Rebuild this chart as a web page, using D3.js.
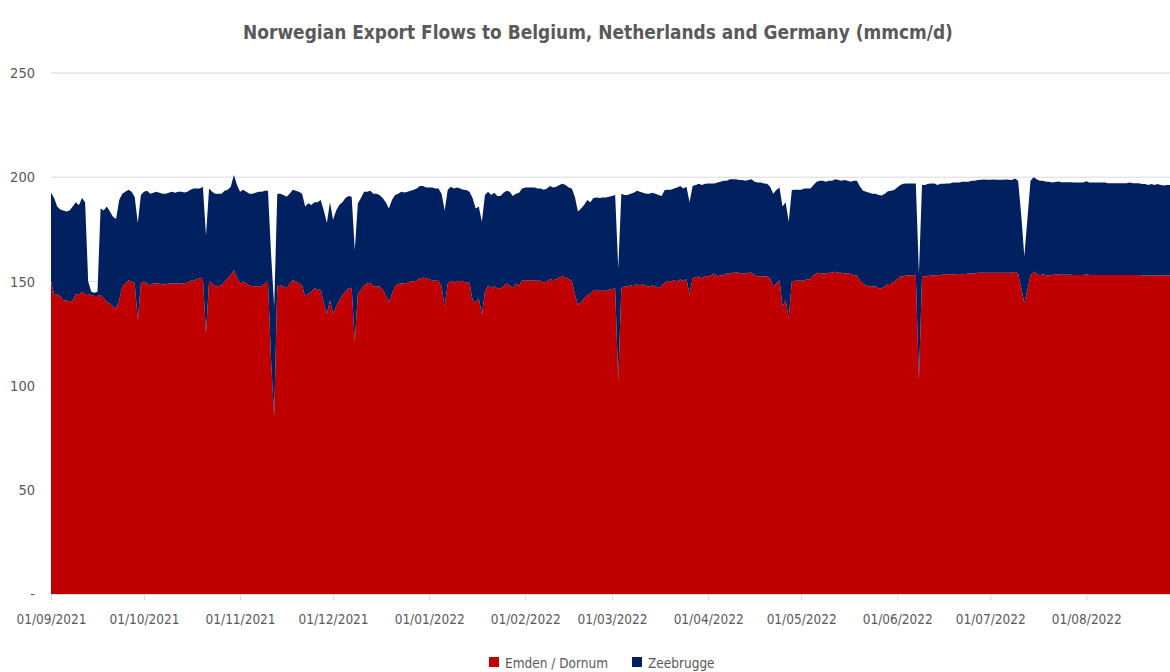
<!DOCTYPE html>
<html>
<head>
<meta charset="utf-8">
<script src="https://cdn.jsdelivr.net/npm/d3@7"></script>
<style>
  body { margin: 0; background: #fff; }
  svg text { font-family: "Liberation Sans Narrow", "DejaVu Sans Condensed", "Open Sans", sans-serif; fill: #595959; }
</style>
</head>
<body>
<svg id="chart" width="1170" height="672"></svg>
<script>
// first day of the daily series
const startDate = '2021-09-01';

// Emden / Dornum, mmcm/d, one value per day
const emden = [
  150, 143.5, 144, 142.7, 141, 141, 140, 141, 144, 143.5,
  145, 144, 144, 143.5, 143, 143, 143.5, 142, 140, 139.5,
  138, 137, 141, 147.5, 149, 150.5, 150, 149, 131.5, 149,
  150, 149, 148, 149, 149, 149, 148.5, 148.5, 149, 149,
  149, 149, 149, 149, 149.3, 150.3, 150.3, 151, 151.5, 151.8,
  125, 150, 149, 147.5, 147.8, 148, 150, 151.5, 153, 155.5,
  152, 149, 150, 149, 148, 147.7, 147.7, 147.7, 147.7, 149,
  150, 112, 85, 147.5, 148, 147.5, 146.7, 149, 150.6, 150,
  149, 148, 142.7, 144, 145, 146.7, 146, 146, 139.5, 134.3,
  141, 134.6, 138, 141, 143.5, 145, 146.7, 147, 121, 144,
  146, 148, 149, 149.3, 147.7, 147.7, 147.5, 146, 143.5, 140,
  144, 147.7, 148.7, 149, 149, 149.3, 150, 150, 150.3, 151.5,
  151.8, 151.5, 151, 150.6, 150.3, 150.3, 147.5, 138, 149, 150.3,
  149.3, 150, 150.3, 150, 149.3, 149.3, 141, 140, 142, 134,
  145, 148, 146.7, 147.7, 146.7, 146.7, 147.7, 149, 148, 146.7,
  149, 148, 150.6, 150.6, 150.6, 150.6, 150.6, 150.3, 150.3, 149.3,
  150, 151, 150.6, 151, 152, 152.3, 152, 151, 150.3, 144,
  138.7, 140, 141.9, 143.5, 144, 145.5, 146, 145.5, 145.5, 145.5,
  146, 146.3, 146.7, 102.7, 146.7, 147.5, 147.7, 148, 147.7, 148.7,
  148, 148.7, 147.7, 147.5, 148, 147.7, 146.7, 148, 149.3, 150.3,
  150, 150.6, 150, 151, 150.3, 151, 144, 151.5, 152, 152.3,
  151.5, 152.3, 152.3, 153, 153.8, 152.3, 153, 153, 153.8, 153.8,
  154.2, 154.2, 154.2, 153.8, 153.8, 154.2, 154.2, 153, 152.5, 152.5,
  152.3, 152.3, 151.5, 147.5, 149, 150.6, 138, 141, 132.3, 150,
  150.3, 150.3, 150.3, 150.6, 151, 151, 153, 153.8, 154.2, 153.8,
  153.8, 154.2, 154.2, 154.6, 154.2, 154.2, 153.8, 153.8, 153.5, 153,
  153, 150.3, 149, 148, 147.5, 147.5, 147.5, 146.7, 146.7, 147.5,
  148.8, 148.7, 150, 151, 152.3, 152.5, 153, 153, 153, 153,
  102.6, 152.5, 152.5, 152.5, 153, 153, 153, 153, 153.4, 153.4,
  153.4, 153.4, 153.4, 153.5, 153.4, 153.5, 153.8, 153.8, 153.8, 154.2,
  154.2, 154.2, 154.2, 154.2, 154.2, 154.2, 154.2, 154.2, 154.2, 154.2,
  154.2, 154.6, 153.8, 147, 139.5, 146, 153, 154.6, 153.8, 153,
  153.4, 153, 153, 153, 153.4, 153.4, 153.2, 153.2, 153.2, 153.2,
  153.1, 153.1, 153.1, 153.1, 153.4, 153.1, 153.1, 153.1, 153.1, 153.1,
  153.1, 153.1, 153.1, 153.1, 153.1, 153.1, 153.1, 153.1, 153.1, 153.1,
  153.1, 153.1, 152.8, 152.8, 152.8, 152.8, 152.8, 152.8, 152.8, 152.8,
  152.8, 152.8
];

// Zeebrugge, mmcm/d, one value per day
const zeebrugge = [
  42.6, 46.5, 42, 41.8, 43, 42.5, 44, 45, 44, 43,
  45, 44, 6, 1.5, 1.5, 2, 41.5, 42, 46, 44,
  43, 43, 48, 44.5, 44, 43.5, 43, 41.5, 46.5, 42.5,
  43, 44.5, 44, 43.5, 44, 43.5, 43.5, 43.5, 43.5, 44,
  43.5, 44, 44, 43.7, 43.7, 43.7, 44.3, 43.6, 43.1, 43.6,
  47, 44.6, 44, 44.5, 44.2, 44, 43.5, 42.5, 42.4, 45.5,
  44.3, 44, 44, 44, 44, 44.3, 44.8, 45.3, 45.3, 44.5,
  43.5, 51, 53, 44.5, 44, 43.9, 43.9, 43, 43.4, 43.5,
  44, 44, 43.3, 43.5, 41.7, 41.3, 42, 43, 44.5, 43.7,
  47, 45, 46, 45.7, 44.5, 45, 44.3, 43.6, 44, 43.5,
  44, 45, 44, 44.2, 44.3, 44.3, 43.9, 44, 44.5, 45,
  45, 43.7, 43.3, 44, 43.7, 43.7, 43.5, 44, 44.3, 44.3,
  44, 43.5, 44, 44.4, 44.3, 44.3, 44.5, 46, 45, 45.1,
  45.3, 45, 44.3, 44, 44.5, 43.7, 49, 45, 44, 44.6,
  46.4, 45, 44.7, 44.8, 44.3, 44.3, 44.8, 44.5, 45, 44.3,
  43, 44.5, 44, 44.4, 44.4, 44.4, 44.4, 44.3, 44.3, 44.7,
  44.6, 44.8, 44.4, 44.4, 44.3, 44.5, 44.3, 44, 44.3, 46.6,
  44.8, 45, 44.8, 45.5, 44, 44.5, 44.3, 44.5, 44.8, 44.8,
  44.6, 44.7, 44.7, 53.6, 45.3, 43.9, 43.7, 44, 44.8, 44.8,
  45, 43.8, 44.3, 44.5, 44.5, 44.3, 44.7, 43, 44.5, 43.7,
  44, 44, 45, 44.8, 44.3, 44.4, 44, 44.3, 44.3, 44.5,
  44.8, 44.5, 44.7, 44, 43.2, 45.1, 44.8, 45.3, 44.5, 45.2,
  44.8, 44.8, 44.4, 44.8, 44.5, 44.4, 44.8, 44.8, 44.9, 44.9,
  44.7, 44.5, 43.9, 44.5, 44.8, 44.4, 48, 47, 46.3, 43.8,
  43.7, 43.7, 43.7, 44, 43.6, 43.6, 43.3, 44, 44.1, 44.5,
  44, 44.1, 44.1, 44.4, 44.4, 44.1, 44.8, 44.5, 44.3, 45.3,
  45.3, 45.1, 44.5, 45, 45, 44.5, 44.5, 44.7, 44.5, 44.5,
  44.4, 44.8, 43.8, 44, 44, 44.3, 44, 44, 44, 44,
  51.3, 43.8, 43.8, 44.3, 44, 44, 43.3, 43.8, 43.4, 43.6,
  43.6, 44, 44, 43.9, 44.4, 44.3, 44, 44.5, 44.5, 44.4,
  44.6, 44.7, 44.6, 44.6, 44.7, 44.6, 44.6, 44.6, 44.7, 44.6,
  44.4, 44.8, 44.5, 35, 22.5, 34, 45.3, 45.4, 45.2, 45.3,
  44.9, 44.8, 44.8, 44.4, 44.3, 44.5, 44.4, 44.4, 44.4, 44.4,
  44.4, 44.4, 44.4, 44.4, 44.6, 44.4, 44.3, 44.3, 44.3, 44.3,
  44.3, 44, 44, 44, 44, 44, 44, 44, 44.3, 44,
  44, 44, 43.9, 43.9, 43.5, 43.9, 43.5, 43.9, 43.5, 43.2,
  43.5, 43.4
];

const seriesKeys = ['emden', 'zeebrugge'];
const seriesNames = ['Emden / Dornum', 'Zeebrugge'];
const seriesColors = ['#c00000', '#002060'];

const yTicks = [0, 50, 100, 150, 200, 250];
const xTicks = ['2021-09-01', '2021-10-01', '2021-11-01', '2021-12-01', '2022-01-01', '2022-02-01',
                '2022-03-01', '2022-04-01', '2022-05-01', '2022-06-01', '2022-07-01', '2022-08-01'];

const titleText = 'Norwegian Export Flows to Belgium, Netherlands and Germany (mmcm/d)';

const WIDTH = 1170, HEIGHT = 672;
const MARGINS = { top: 73, bottom: 78, left: 51, right: 0 };

const parseDate = d3.timeParse('%Y-%m-%d');
const start = parseDate(startDate);

const table = emden.map((v, i) => ({
  date: d3.timeDay.offset(start, i),
  emden: v,
  zeebrugge: zeebrugge[i]
}));

const svg = d3.select('#chart');

const x = d3.scaleTime()
  .domain(d3.extent(table, d => d.date))
  .range([MARGINS.left, WIDTH - MARGINS.right]);
const y = d3.scaleLinear()
  .domain([0, 250])
  .range([HEIGHT - MARGINS.bottom, MARGINS.top]);

// Gridlines
svg.append('g')
  .selectAll('line')
  .data(yTicks.filter(d => d > 0))
  .join('line')
    .attr('x1', MARGINS.left)
    .attr('x2', WIDTH)
    .attr('y1', d => y(d))
    .attr('y2', d => y(d))
    .attr('stroke', '#d9d9d9')
    .attr('stroke-width', 1);

// Stacked areas
const stacked = d3.stack().keys(seriesKeys)(table);
const area = d3.area()
  .x(d => x(d.data.date))
  .y0(d => y(d[0]))
  .y1(d => y(d[1]));

svg.append('g')
  .selectAll('path')
  .data(stacked)
  .join('path')
    .attr('d', area)
    .attr('fill', (d, i) => seriesColors[i]);

// Y axis
const yAxis = svg.append('g')
  .attr('transform', `translate(${MARGINS.left},0)`)
  .call(d3.axisLeft(y).tickValues(yTicks).tickSize(0).tickPadding(16)
    .tickFormat(d => d === 0 ? '-' : d));
yAxis.select('.domain').remove();
yAxis.selectAll('text').style('font-size', '14.5px').attr('fill', '#595959');

// X axis
const xAxis = svg.append('g')
  .attr('transform', `translate(0,${y(0)})`)
  .call(d3.axisBottom(x).tickValues(xTicks.map(parseDate)).tickSize(6).tickPadding(14)
    .tickFormat(d3.timeFormat('%d/%m/%Y')));
xAxis.select('.domain').attr('stroke', '#d9d9d9').attr('d', `M${MARGINS.left},0.5H${WIDTH}`);
xAxis.selectAll('.tick line').attr('stroke', '#d9d9d9');
xAxis.selectAll('text').style('font-size', '13.5px').attr('fill', '#595959');

// Title, sized so that it spans the same width as in the reference
const title = svg.append('text')
  .attr('x', 598)
  .attr('y', 39)
  .attr('text-anchor', 'middle')
  .attr('font-weight', 'bold')
  .style('font-size', '25px')
  .text(titleText);
const natural = title.node().getComputedTextLength();
title.style('font-size', `${Math.min(25, 25 * 710 / natural)}px`);

// Legend
const legendX = [489, 632];
const legend = svg.append('g')
  .selectAll('g')
  .data(seriesNames)
  .join('g')
    .attr('transform', (d, i) => `translate(${legendX[i]},657)`);
legend.append('rect')
  .attr('width', 10)
  .attr('height', 10)
  .attr('fill', (d, i) => seriesColors[i]);
legend.append('text')
  .attr('x', 16)
  .attr('y', 10.5)
  .style('font-size', '13.5px')
  .text(d => d);
</script>
</body>
</html>
